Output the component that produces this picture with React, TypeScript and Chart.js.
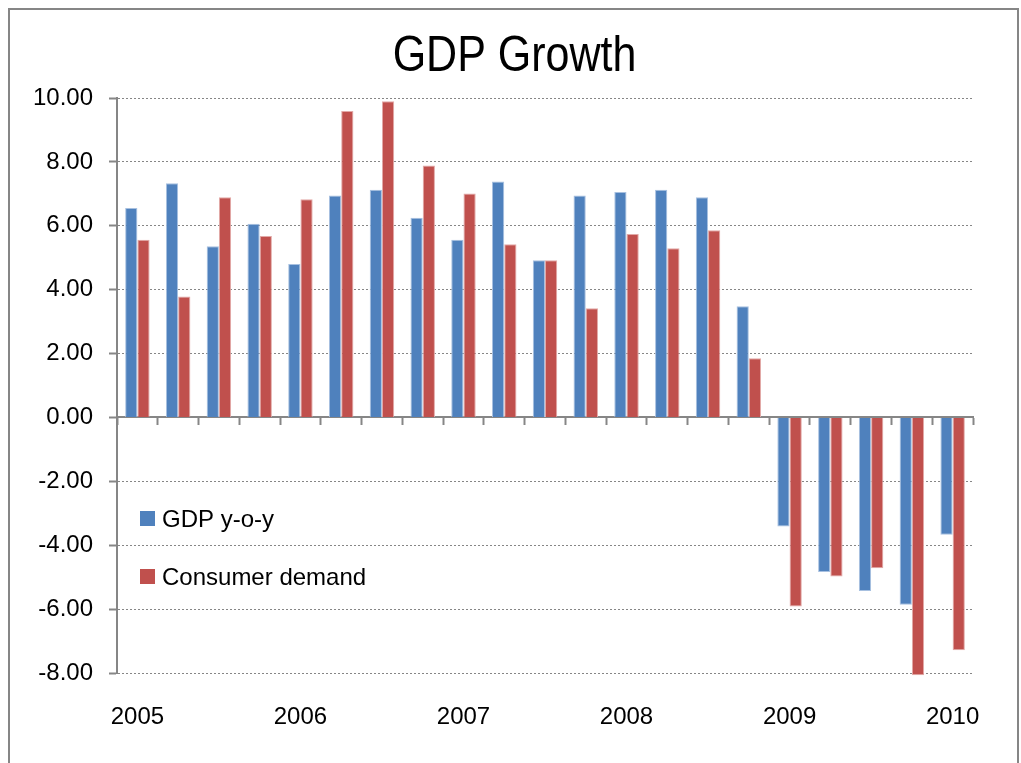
import React, { useEffect, useRef } from "react";
import { Chart, registerables } from "chart.js";

Chart.register(...registerables);

const categories = [
  "2005 Q1", "2005 Q2", "2005 Q3", "2005 Q4",
  "2006 Q1", "2006 Q2", "2006 Q3", "2006 Q4",
  "2007 Q1", "2007 Q2", "2007 Q3", "2007 Q4",
  "2008 Q1", "2008 Q2", "2008 Q3", "2008 Q4",
  "2009 Q1", "2009 Q2", "2009 Q3", "2009 Q4",
  "2010 Q1",
];
const tickYears = ["2005", "2006", "2007", "2008", "2009", "2010"];
const gdpYoY = [6.56, 7.33, 5.36, 6.06, 4.8, 6.95, 7.13, 6.25, 5.56, 7.39, 4.92, 6.95, 7.06, 7.13, 6.89, 3.48, -3.41, -4.84, -5.43, -5.86, -3.67];
const consumerDemand = [5.56, 3.79, 6.89, 5.68, 6.83, 9.59, 9.9, 7.89, 7.01, 5.42, 4.92, 3.42, 5.74, 5.3, 5.86, 1.85, -5.92, -4.98, -4.72, -8.07, -7.29];
const seriesNames = ["GDP y-o-y", "Consumer demand"];
const titleText = "GDP Growth";

const BLUE = "#4F81BD";
const RED = "#C0504D";
const AXIS = "#868686";
const FONT = '"Liberation Sans", Arial, sans-serif';

const titlePlugin = {
  id: "condensedTitle",
  afterDraw(chart: any) {
    const { ctx } = chart;
    ctx.save();
    ctx.translate(chart.width / 2 + 1, 47);
    ctx.scale(0.86, 1);
    ctx.font = `50px ${FONT}`;
    ctx.fillStyle = "#000";
    ctx.textAlign = "center";
    ctx.textBaseline = "middle";
    ctx.fillText(titleText, 0, 0);
    ctx.restore();
  },
};

const legendPlugin = {
  id: "insideLegend",
  afterDraw(chart: any) {
    const { ctx, chartArea } = chart;
    ctx.save();
    ctx.font = `24px ${FONT}`;
    ctx.textBaseline = "middle";
    ctx.textAlign = "left";
    chart.data.datasets.forEach((ds: any, i: number) => {
      const x = chartArea.left + 23;
      const y = chartArea.top + 421 + i * 58;
      ctx.fillStyle = ds.backgroundColor;
      ctx.fillRect(x, y - 8, 15, 15);
      ctx.fillStyle = "#000";
      ctx.fillText(ds.label, x + 22, y + 1);
    });
    ctx.restore();
  },
};

export default function App() {
  const ref = useRef<HTMLCanvasElement | null>(null);

  useEffect(() => {
    if (!ref.current) return;
    const chart = new Chart(ref.current, {
      type: "bar",
      data: {
        labels: categories,
        datasets: [
          {
            label: seriesNames[0],
            data: gdpYoY,
            backgroundColor: BLUE,
            borderColor: "#A7C0E0",
            borderWidth: 1,
            clip: false as any,
            xAxisID: "x",
          },
          {
            label: seriesNames[1],
            data: consumerDemand,
            backgroundColor: RED,
            borderColor: "#E2A9A7",
            borderWidth: 1,
            clip: false as any,
            xAxisID: "x",
          },
        ],
      },
      plugins: [titlePlugin, legendPlugin],
      options: {
        animation: false,
        responsive: false,
        maintainAspectRatio: false,
        categoryPercentage: 0.6,
        barPercentage: 1.0,
        layout: { padding: { left: 0, right: 44, top: 88, bottom: 0 } },
        plugins: {
          legend: { display: false },
          tooltip: { enabled: false },
          title: { display: false },
        },
        scales: {
          x: {
            type: "category",
            position: { y: 0 } as any,
            offset: true,
            grid: {
              display: true,
              offset: true,
              drawOnChartArea: false,
              drawTicks: true,
              tickLength: 7,
              tickWidth: 2,
              tickColor: AXIS,
            },
            border: { display: true, color: AXIS, width: 2 },
            ticks: { display: false },
          },
          x2: {
            type: "category",
            position: "bottom",
            labels: categories,
            offset: true,
            grid: { display: false, drawTicks: false },
            border: { display: false },
            ticks: {
              autoSkip: false,
              maxRotation: 0,
              minRotation: 0,
              padding: 29.5,
              color: "#000",
              font: { family: FONT, size: 24 },
              callback: (_v: any, i: number) => (i % 4 === 0 ? tickYears[i / 4] : ""),
            },
            afterFit: (scale: any) => {
              scale.height = 90;
            },
          },
          y: {
            min: -8,
            max: 10,
            grid: {
              color: AXIS,
              lineWidth: 1,
              drawTicks: true,
              tickLength: 8,
              tickWidth: 2,
              tickColor: AXIS,
              tickBorderDash: [],
            },
            border: { display: true, color: AXIS, width: 2, dash: [2, 2] },
            ticks: {
              stepSize: 2,
              padding: 16,
              color: "#000",
              font: { family: FONT, size: 24 },
              callback: (v: any) => Number(v).toFixed(2),
            },
            afterFit: (scale: any) => {
              scale.width = 107;
            },
          },
        },
      } as any,
    });
    return () => chart.destroy();
  }, []);

  return (
    <div
      style={{
        position: "fixed",
        left: 8,
        top: 8,
        width: 1011,
        height: 755,
        boxSizing: "border-box",
        borderTop: `2px solid ${AXIS}`,
        borderLeft: `2px solid ${AXIS}`,
        borderRight: `2px solid ${AXIS}`,
        background: "#fff",
      }}
    >
      <canvas ref={ref} width={1007} height={753} style={{ display: "block" }} />
    </div>
  );
}
